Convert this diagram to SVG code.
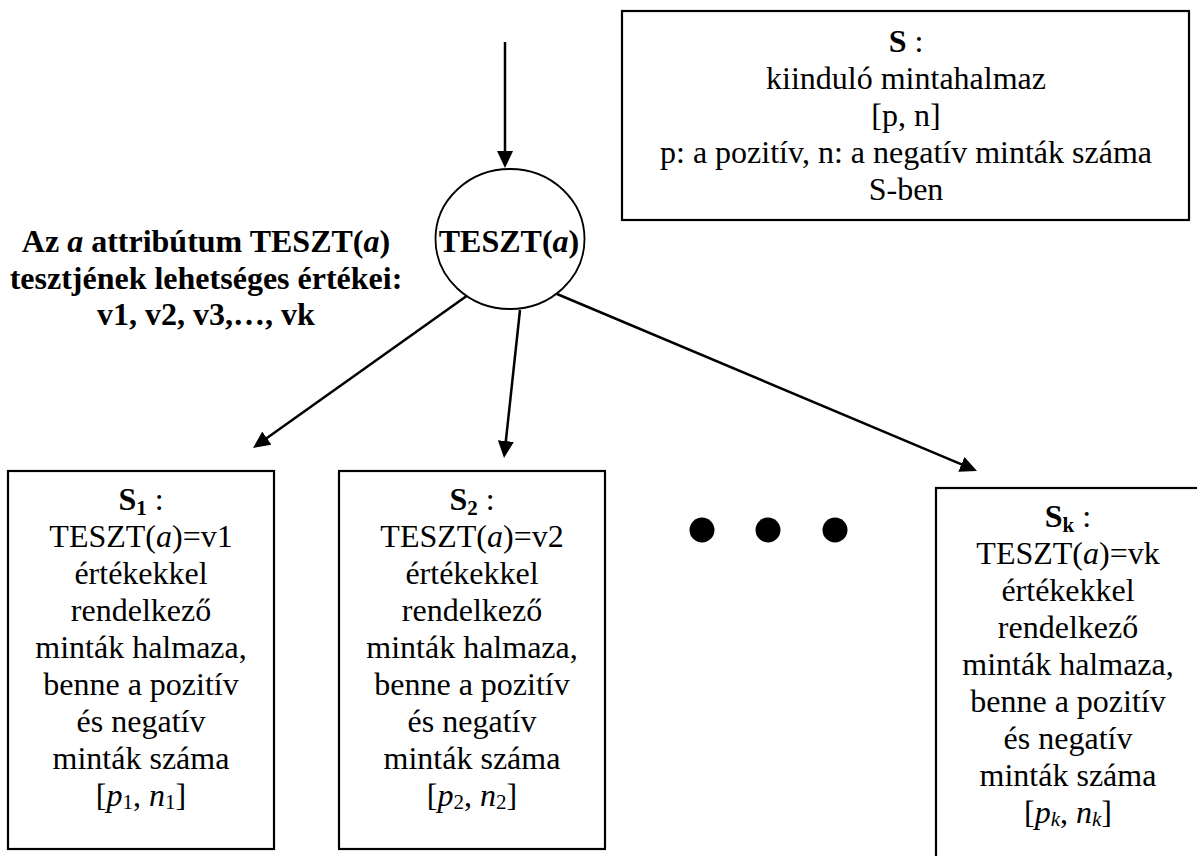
<svg xmlns="http://www.w3.org/2000/svg" width="1197" height="856" viewBox="0 0 1197 856">
<style>
text{font-family:"Liberation Serif","Times New Roman",serif;font-size:32px;fill:#000;text-anchor:middle}
.b{font-weight:bold}
.i{font-style:italic}
.box{fill:#fff;stroke:#000;stroke-width:2.2}
.conn{stroke:#000;stroke-width:2.5;fill:none;marker-end:url(#ah)}
</style>
<defs>
<marker id="ah" markerUnits="userSpaceOnUse" markerWidth="17" markerHeight="16" refX="6" refY="8" orient="auto">
<path d="M0,0 L17,8 L0,16 z" fill="#000"/>
</marker>
</defs>
<rect width="1197" height="856" fill="#fff"/>

<g id="connectors">
<path class="conn" d="M505,42 L505,157"/>
<path class="conn" d="M468,295 L262,441.6"/>
<path class="conn" d="M520,310 L505.2,447"/>
<path class="conn" d="M557,294 L966.9,466.7"/>
</g>

<g id="node-S">
<rect class="box" x="622" y="11" width="567" height="209"/>
<text x="906" y="52"><tspan class="b">S</tspan> :</text>
<text x="906" y="89">kiinduló mintahalmaz</text>
<text x="906" y="126">[p, n]</text>
<text x="906" y="163">p: a pozitív, n: a negatív minták száma</text>
<text x="906" y="200">S-ben</text>
</g>

<g id="label-attr">
<text class="b" x="206" y="252">Az <tspan class="i">a</tspan> attribútum TESZT(<tspan class="i">a</tspan>)</text>
<text class="b" x="206" y="288.5">tesztjének lehetséges értékei:</text>
<text class="b" x="206" y="325">v1, v2, v3,…, vk</text>
</g>

<g id="node-teszt">
<ellipse cx="510" cy="239" rx="74.5" ry="70" fill="#fff" stroke="#000" stroke-width="1.8"/>
<text class="b" x="509" y="251.5">TESZT(<tspan class="i">a</tspan>)</text>
</g>

<g id="node-S1">
<rect class="box" x="8" y="471" width="266" height="378"/>
<text x="141" y="510"><tspan class="b">S<tspan font-size="21" dy="5">1</tspan></tspan><tspan dy="-5"> :</tspan></text>
<text x="141" y="547">TESZT(<tspan class="i">a</tspan>)=v1</text>
<text x="141" y="584">értékekkel</text>
<text x="141" y="621">rendelkező</text>
<text x="141" y="658">minták halmaza,</text>
<text x="141" y="695">benne a pozitív</text>
<text x="141" y="732">és negatív</text>
<text x="141" y="769">minták száma</text>
<text x="141" y="806">[<tspan class="i">p</tspan><tspan font-size="21" dy="3">1</tspan><tspan dy="-3">, </tspan><tspan class="i">n</tspan><tspan font-size="21" dy="3">1</tspan><tspan dy="-3">]</tspan></text>
</g>

<g id="node-S2">
<rect class="box" x="339" y="471" width="266" height="378"/>
<text x="472" y="510"><tspan class="b">S<tspan font-size="21" dy="5">2</tspan></tspan><tspan dy="-5"> :</tspan></text>
<text x="472" y="547">TESZT(<tspan class="i">a</tspan>)=v2</text>
<text x="472" y="584">értékekkel</text>
<text x="472" y="621">rendelkező</text>
<text x="472" y="658">minták halmaza,</text>
<text x="472" y="695">benne a pozitív</text>
<text x="472" y="732">és negatív</text>
<text x="472" y="769">minták száma</text>
<text x="472" y="806">[<tspan class="i">p</tspan><tspan font-size="21" dy="3">2</tspan><tspan dy="-3">, </tspan><tspan class="i">n</tspan><tspan font-size="21" dy="3">2</tspan><tspan dy="-3">]</tspan></text>
</g>

<g id="dots">
<circle cx="702" cy="530" r="12.5" fill="#000"/>
<circle cx="768" cy="530" r="12.5" fill="#000"/>
<circle cx="835" cy="530" r="12.5" fill="#000"/>
</g>

<g id="node-Sk">
<rect class="box" x="936" y="488" width="266" height="400"/>
<text x="1068" y="527"><tspan class="b">S<tspan font-size="21" dy="5">k</tspan></tspan><tspan dy="-5"> :</tspan></text>
<text x="1068" y="564">TESZT(<tspan class="i">a</tspan>)=vk</text>
<text x="1068" y="601">értékekkel</text>
<text x="1068" y="638">rendelkező</text>
<text x="1068" y="675">minták halmaza,</text>
<text x="1068" y="712">benne a pozitív</text>
<text x="1068" y="749">és negatív</text>
<text x="1068" y="786">minták száma</text>
<text x="1068" y="823">[<tspan class="i">p<tspan font-size="21" dy="3">k</tspan></tspan><tspan dy="-3">, </tspan><tspan class="i">n<tspan font-size="21" dy="3">k</tspan></tspan><tspan dy="-3">]</tspan></text>
</g>
</svg>
